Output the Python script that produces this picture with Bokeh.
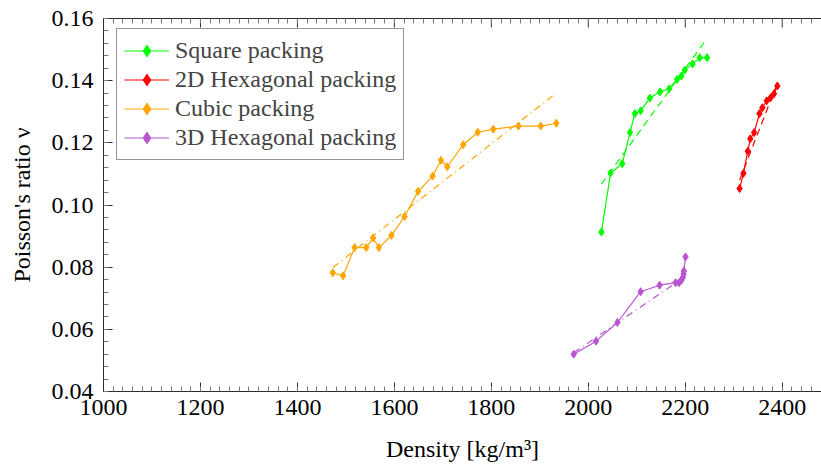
import numpy as np
from bokeh.plotting import figure
from bokeh.models import (FixedTicker, PrintfTickFormatter, LinearAxis, Legend,
                          LegendItem, Range1d)
from bokeh.embed import file_html
from bokeh.resources import INLINE

# ---------------- data ----------------
square_x = [2027, 2046, 2070, 2086, 2096, 2108, 2127, 2148, 2167, 2183, 2192, 2199, 2215, 2230, 2245]
square_y = [0.0913, 0.1103, 0.1133, 0.1233, 0.1294, 0.1303, 0.1344, 0.1364, 0.1374, 0.1404, 0.1415,
            0.1434, 0.1454, 0.1474, 0.1474]
square_fit_x = [2027, 2245]
square_fit_y = [0.1067, 0.1536]

hex2d_x = [2312, 2320, 2329, 2334, 2342, 2353, 2359, 2368, 2376, 2383, 2390]
hex2d_y = [0.1053, 0.1102, 0.1173, 0.1213, 0.1233, 0.1294, 0.1313, 0.1335, 0.1345, 0.1358, 0.1383]
hex2d_fit_x = [2312, 2392]
hex2d_fit_y = [0.1080, 0.1400]

cubic_x = [1473, 1494, 1518, 1542, 1556, 1568, 1594, 1621, 1649, 1679, 1696, 1709, 1742, 1772,
           1804, 1856, 1902, 1934]
cubic_y = [0.0782, 0.0772, 0.0863, 0.0863, 0.0894, 0.0863, 0.0902, 0.0963, 0.1044, 0.1093, 0.1144,
           0.1123, 0.1194, 0.1234, 0.1244, 0.1254, 0.1254, 0.1263]
cubic_fit_x = [1473, 1934]
cubic_fit_y = [0.0799, 0.1360]

hex3d_x = [1970, 2016, 2060, 2108, 2147, 2180, 2187, 2192, 2195, 2196.5, 2197, 2200.5]
hex3d_y = [0.0520, 0.0562, 0.0622, 0.0721, 0.0742, 0.0750, 0.0750, 0.0758, 0.0767, 0.0778, 0.0788, 0.0833]
hex3d_fit_x = [1970, 2200]
hex3d_fit_y = [0.0525, 0.0770]

series_names = ["Square packing", "2D Hexagonal packing", "Cubic packing", "3D Hexagonal packing"]
series_colors = ["#00ff00", "#ff0000", "#ffa500", "#b955d0"]

x_ticks = [1000, 1200, 1400, 1600, 1800, 2000, 2200, 2400]
y_ticks = [0.04, 0.06, 0.08, 0.10, 0.12, 0.14, 0.16]

x_label = "Density [kg/m³]"
y_label = "Poisson's ratio ν"

FONT = "'Liberation Serif', serif"
TICK_FONT = "serif"
FS = "24px"
AXC = "#2b2b2b"

X0, X1, Y0, Y1 = 1000, 2481, 0.04, 0.16

p = figure(width=821, height=465, x_range=Range1d(X0, X1), y_range=Range1d(Y0, Y1),
           output_backend="svg", toolbar_location=None,
           min_border_left=103, min_border_right=0, min_border_top=18, min_border_bottom=74)
p.outline_line_color = None
p.grid.visible = False
p.background_fill_color = "white"

x_minor = [float(v) for v in np.arange(1000, 2500, 20)]
y_minor = [round(float(v), 4) for v in np.arange(0.04, 0.1601, 0.004)]
xticker = FixedTicker(ticks=x_ticks, minor_ticks=x_minor)
yticker = FixedTicker(ticks=y_ticks, minor_ticks=y_minor)

for ax in (p.xaxis[0], p.yaxis[0]):
    ax.major_tick_in = 9
    ax.major_tick_out = 0
    ax.minor_tick_in = 5
    ax.minor_tick_out = 0
    ax.axis_line_color = AXC
    ax.major_tick_line_color = AXC
    ax.minor_tick_line_color = "#777777"
    ax.major_label_text_font = TICK_FONT
    ax.major_label_text_font_size = FS
    ax.major_label_text_color = "black"
    ax.axis_label_text_font = FONT
    ax.axis_label_text_font_size = FS
    ax.axis_label_text_font_style = "normal"
    ax.axis_label_text_color = "black"

p.xaxis[0].ticker = xticker
p.yaxis[0].ticker = yticker
p.xaxis[0].formatter = PrintfTickFormatter(format="%d")
p.yaxis[0].formatter = PrintfTickFormatter(format="%.2f")
p.xaxis[0].axis_label = x_label
p.yaxis[0].axis_label = y_label
p.xaxis[0].major_label_standoff = 8
p.xaxis[0].axis_label_standoff = 18
p.yaxis[0].major_label_standoff = 10
p.yaxis[0].axis_label_standoff = 14

# top frame line with minor ticks only (no labels)
top = LinearAxis(ticker=FixedTicker(ticks=[], minor_ticks=x_minor),
                 major_tick_in=0, major_tick_out=0, minor_tick_in=5, minor_tick_out=0,
                 axis_line_color=AXC, minor_tick_line_color="#777777")
p.add_layout(top, "above")
# major ticks on the top frame
tick_len = 9 / 373.0 * (Y1 - Y0)
p.segment(x0=x_ticks, y0=[Y1] * len(x_ticks), x1=x_ticks, y1=[Y1 - tick_len] * len(x_ticks),
          line_color=AXC, line_width=1)

xs = [square_x, hex2d_x, cubic_x, hex3d_x]
ys = [square_y, hex2d_y, cubic_y, hex3d_y]
fxs = [square_fit_x, hex2d_fit_x, cubic_fit_x, hex3d_fit_x]
fys = [square_fit_y, hex2d_fit_y, cubic_fit_y, hex3d_fit_y]
dashes = ["7 5", "7 5", "7 4 1 4", "7 4 1 4"]

items = []
for name, col, x, y, fx, fy, d in zip(series_names, series_colors, xs, ys, fxs, fys, dashes):
    l = p.line(x, y, line_color=col, line_width=1.2)
    s = p.scatter(x, y, marker="diamond", size=8, fill_color=col, line_color=col)
    p.line(fx, fy, line_color=col, line_width=1.2, line_dash=d)
    items.append(LegendItem(label=name, renderers=[l, s]))

legend = Legend(items=items, location=(13, 231), border_line_color=AXC, border_line_width=1,
                background_fill_color="white", background_fill_alpha=1.0,
                glyph_width=45, glyph_height=29, label_height=24, label_standoff=6, spacing=0,
                padding=7, label_text_font=FONT, label_text_font_size=FS, margin=0)
p.add_layout(legend)

open("out.html", "w").write(file_html(p, INLINE))
